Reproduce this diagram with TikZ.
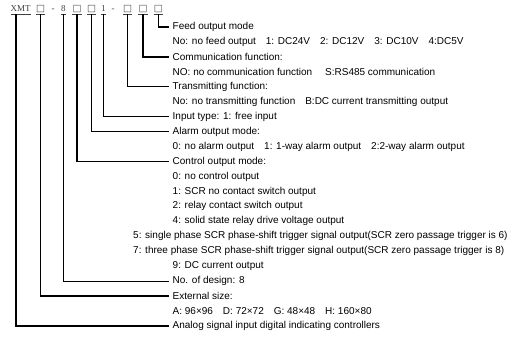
\documentclass[tikz,border=0pt]{standalone}
\usepackage{fontspec}
\setmainfont{Liberation Sans}
\newfontfamily\codefont{Liberation Serif}
\newfontfamily\boxfont{DejaVu Sans}
\begin{document}
\begin{tikzpicture}[x=1pt,y=-1pt,
  lbl/.style={anchor=west, inner sep=0pt, inner xsep=3.5pt, font=\fontsize{10}{12}\selectfont},
  code/.style={anchor=base, inner sep=0pt, font=\codefont\fontsize{9}{10}\selectfont, text=black!75},
  cbox/.style={anchor=base, inner sep=0pt, font=\boxfont\fontsize{9.5}{10}\selectfont, text=black!70},
  uline/.style={line width=0.5pt, black!75},
  lead/.style={line width=1.3pt}]
\useasboundingbox (0,0) rectangle (512,337);
\def\g{\hspace{7.2pt} }
% top code row
\node[code] (xmt) at (20.7,12) {XMT};
\node[cbox] (b1) at (40.7,12) {□};
\node[code] (d1) at (53,12) {-};
\node[code] (n8) at (63.3,12) {8};
\node[cbox] (b2) at (77,12) {□};
\node[cbox] (b3) at (91.5,12) {□};
\node[code] (n1) at (103.5,12) {1};
\node[code] (d2) at (113,12) {-};
\node[cbox] (b4) at (127.5,12) {□};
\node[cbox] (b5) at (143,12) {□};
\node[cbox] (b6) at (158.3,12) {□};
\foreach \n in {xmt,b1,n8,b2,b3,n1,b4,b5,b6}
  \draw[uline] ([yshift=-2.2pt]\n.base west) -- ([yshift=-2.2pt]\n.base east);
% labels
\node[lbl] (l0)  at (169,27.0)  {Feed output mode};
\node[lbl] (l1)  at (169,41.95) {No: no feed output\g 1: DC24V\g 2: DC12V\g 3: DC10V\g 4:DC5V};
\node[lbl] (l2)  at (169,56.9)  {Communication function:};
\node[lbl] (l3)  at (169,71.85) {NO: no communication function\g\hspace{3pt}S:RS485 communication};
\node[lbl] (l4)  at (169,86.8)  {Transmitting function:};
\node[lbl] (l5)  at (169,101.75){No: no transmitting function\g B:DC current transmitting output};
\node[lbl] (l6)  at (169,116.7) {Input type: 1: free input};
\node[lbl] (l7)  at (169,131.65){Alarm output mode:};
\node[lbl] (l8)  at (169,146.6) {0: no alarm output\g 1: 1-way alarm output\g 2:2-way alarm output};
\node[lbl] (l9)  at (169,161.55){Control output mode:};
\node[lbl] (l10) at (169,176.5) {0: no control output};
\node[lbl] (l11) at (169,191.45){1: SCR no contact switch output};
\node[lbl] (l12) at (169,206.4) {2: relay contact switch output};
\node[lbl] (l13) at (169,221.35){4: solid state relay drive voltage output};
\node[lbl] (l14) at (129.5,236.3){5: single phase SCR phase-shift trigger signal output(SCR zero passage trigger is 6)};
\node[lbl] (l15) at (129.5,251.25){7: three phase SCR phase-shift trigger signal output(SCR zero passage trigger is 8)};
\node[lbl] (l16) at (169,266.2) {9: DC current output};
\node[lbl] (l17) at (169,281.15){No. of design: 8};
\node[lbl] (l18) at (169,296.1) {External size:};
\node[lbl] (l19) at (169,311.05){A: 96×96\g D: 72×72\g G: 48×48\g H: 160×80};
\node[lbl] (l20) at (169,326.0) {Analog signal input digital indicating controllers};
% leaders
\coordinate (x0) at ([xshift=-4.7pt,yshift=-2.2pt]xmt.base);
\draw[lead] (x0) |- (l20.west);
\draw[lead] ([yshift=-2.2pt]b1.base) |- (l18.west);
\draw[lead] ([yshift=-2.2pt]n8.base) |- (l17.west);
\draw[lead] ([yshift=-2.2pt]b2.base) |- (l9.west);
\draw[lead] ([yshift=-2.2pt]b3.base) |- (l7.west);
\draw[lead] ([yshift=-2.2pt]n1.base) |- (l6.west);
\draw[lead] ([yshift=-2.2pt]b4.base) |- (l4.west);
\draw[lead] ([yshift=-2.2pt]b5.base) |- (l2.west);
\draw[lead] ([yshift=-2.2pt]b6.base) |- (l0.west);
\end{tikzpicture}
\end{document}
